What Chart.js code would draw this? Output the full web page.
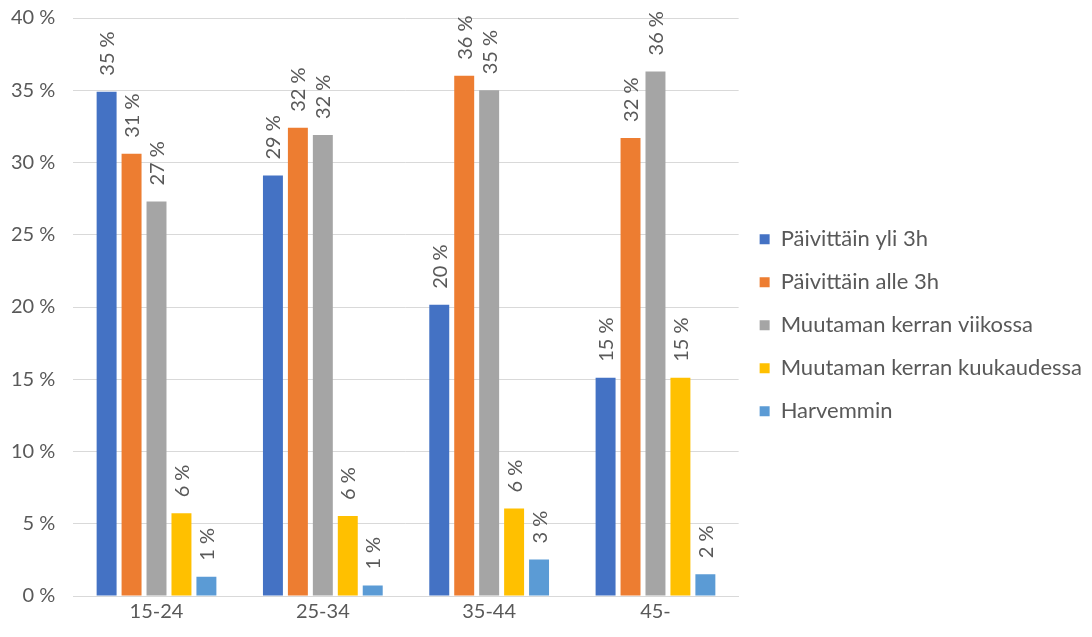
<!DOCTYPE html>
<html>
<head>
<meta charset="utf-8">
<script src="https://cdn.jsdelivr.net/npm/chart.js@4/dist/chart.umd.min.js"></script>
<style>
  body { margin: 0; background: #fff; }
  #wrap { width: 1092px; height: 637px; }
</style>
</head>
<body>
<div id="wrap"><canvas id="chart"></canvas></div>
<script>
// ikäryhmät
const ikaryhmat = ['15-24', '25-34', '35-44', '45-'];

// osuudet prosentteina
const yli3h = [34.9, 29.1, 20.15, 15.1];
const alle3h = [30.6, 32.4, 36.0, 31.7];
const viikossa = [27.3, 31.9, 35.0, 36.3];
const kuukaudessa = [5.72, 5.54, 6.05, 15.1];
const harvemmin = [1.34, 0.72, 2.52, 1.5];

const sarjat = [
    'Päivittäin yli 3h',
    'Päivittäin alle 3h',
    'Muutaman kerran viikossa',
    'Muutaman kerran kuukaudessa',
    'Harvemmin'
];
const varit = ['#4472C4', '#ED7D31', '#A5A5A5', '#FFC000', '#5B9BD5'];

const fontti = 'Lato, "Liberation Sans", sans-serif';
const tekstinVari = '#595959';

// pystysuorat arvotekstit pylväiden päälle
const arvoTekstit = {
    id: 'arvoTekstit',
    afterDatasetsDraw(chart) {
        let ctx = chart.ctx;
        ctx.save();
        ctx.font = '20px ' + fontti;
        ctx.fillStyle = tekstinVari;
        ctx.textAlign = 'left';
        ctx.textBaseline = 'middle';
        chart.data.datasets.forEach((ds, i) => {
            let meta = chart.getDatasetMeta(i);
            meta.data.forEach((bar, j) => {
                ctx.save();
                ctx.translate(bar.x + 1, bar.y - 16);
                ctx.rotate(-Math.PI / 2);
                ctx.fillText(Math.round(ds.data[j]) + ' %', 0, 0);
                ctx.restore();
            });
        });
        ctx.restore();
    }
};

let data = [yli3h, alle3h, viikossa, kuukaudessa, harvemmin];

function rakennaKaavio() {
    let config = {
        type: 'bar',
        data: {
            labels: ikaryhmat,
            datasets: sarjat.map((nimi, i) => ({
                label: nimi,
                data: data[i],
                backgroundColor: varit[i],
                categoryPercentage: 0.75,
                barPercentage: 0.8
            }))
        },
        options: {
            responsive: true,
            maintainAspectRatio: false,
            animation: false,
            layout: {
                padding: { left: 5, top: 0, right: 0, bottom: 9 }
            },
            plugins: {
                legend: {
                    position: 'right',
                    maxWidth: 420,
                    title: {
                        display: true,
                        text: ' ',
                        font: { size: 12 },
                        padding: 4
                    },
                    labels: {
                        boxWidth: 10,
                        boxHeight: 10,
                        padding: 21,
                        color: tekstinVari,
                        font: { family: fontti, size: 22 }
                    }
                },
                tooltip: { enabled: false }
            },
            scales: {
                x: {
                    grid: { display: false, drawTicks: false },
                    border: { color: '#D9D9D9', width: 1 },
                    ticks: {
                        color: tekstinVari,
                        font: { family: fontti, size: 20 },
                        padding: 4
                    }
                },
                y: {
                    min: 0,
                    max: 40,
                    ticks: {
                        stepSize: 5,
                        color: tekstinVari,
                        font: { family: fontti, size: 20 },
                        padding: 6,
                        callback: v => v + ' %'
                    },
                    grid: {
                        color: '#D9D9D9',
                        drawTicks: true,
                        tickLength: 12,
                        tickColor: 'rgba(0,0,0,0)'
                    },
                    border: { display: false }
                }
            }
        },
        plugins: [arvoTekstit]
    };

    let ctx = document.getElementById('chart').getContext('2d');
    new Chart(ctx, config);
}

document.fonts.load('20px Lato').then(rakennaKaavio, rakennaKaavio);
</script>
</body>
</html>
